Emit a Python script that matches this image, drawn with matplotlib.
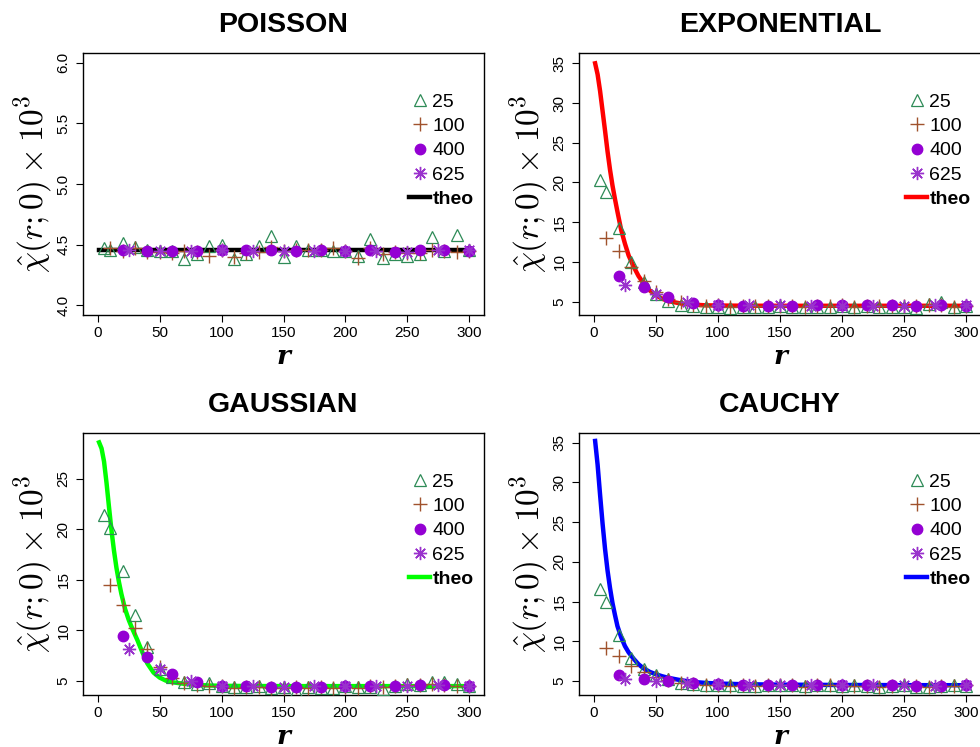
import matplotlib
matplotlib.use("Agg")
import matplotlib.pyplot as plt

plt.rcParams['font.family'] = ['Liberation Sans', 'DejaVu Sans']
plt.rcParams['mathtext.fontset'] = 'cm'

# grid distances for each sample size
r25 = [5, 10, 20, 30, 40, 50, 60, 70, 80, 90, 100, 110, 120, 130, 140, 150,
       160, 170, 180, 190, 200, 210, 220, 230, 240, 250, 260, 270, 280, 290, 300]
r100 = [10, 20, 30, 40, 50, 60, 70, 80, 90, 100, 110, 120, 130, 140, 150,
        160, 170, 180, 190, 200, 210, 220, 230, 240, 250, 260, 270, 280, 290, 300]
r400 = [20, 40, 60, 80, 100, 120, 140, 160, 180, 200, 220, 240, 260, 280, 300]
r625 = [25, 50, 75, 100, 125, 150, 175, 200, 225, 250, 275, 300]

# theoretical curves
r_theo = [1, 3, 5, 7, 9, 11, 13, 15, 17, 19, 22, 25, 28, 32, 36, 40, 45, 50,
          55, 60, 70, 80, 90, 100, 120, 150, 200, 250, 300]
r_theo_poisson = [1, 300]
poisson_theo = [4.46, 4.46]
expo_theo = [35.0, 33.6, 31.5, 29.0, 26.5, 23.9, 21.6, 19.6, 17.9, 16.3, 14.0,
             12.3, 10.8, 9.4, 8.2, 7.3, 6.4, 5.8, 5.35, 5.05, 4.75, 4.6, 4.52,
             4.49, 4.47, 4.46, 4.46, 4.46, 4.46]
gauss_theo = [28.6, 28.0, 26.7, 24.6, 22.2, 19.9, 17.9, 16.2, 14.8, 13.6, 12.1,
              11.0, 10.1, 9.0, 7.8, 6.7, 5.8, 5.3, 5.0, 4.85, 4.68, 4.58, 4.52,
              4.49, 4.47, 4.46, 4.46, 4.46, 4.46]
cauchy_theo = [35.2, 32.2, 28.4, 24.8, 21.6, 18.9, 16.7, 14.8, 13.3, 11.9, 10.5,
               9.4, 8.6, 7.8, 7.1, 6.6, 6.15, 5.85, 5.6, 5.4, 5.1, 4.88, 4.76,
               4.68, 4.6, 4.54, 4.5, 4.48, 4.47]

# POISSON estimates
p25 = [4.47, 4.46, 4.51, 4.48, 4.46, 4.45, 4.45, 4.38, 4.42, 4.49, 4.50, 4.38,
       4.42, 4.49, 4.57, 4.40, 4.49, 4.46, 4.46, 4.45, 4.45, 4.41, 4.55, 4.39,
       4.42, 4.41, 4.42, 4.56, 4.45, 4.58, 4.46]
p100 = [4.47, 4.45, 4.47, 4.44, 4.44, 4.43, 4.45, 4.44, 4.41, 4.46, 4.40, 4.43,
        4.44, 4.48, 4.45, 4.46, 4.46, 4.46, 4.47, 4.45, 4.39, 4.47, 4.42, 4.44,
        4.43, 4.43, 4.46, 4.45, 4.44, 4.45]
p400 = [4.46, 4.45, 4.45, 4.45, 4.46, 4.46, 4.46, 4.45, 4.46, 4.45, 4.46, 4.44,
        4.46, 4.46, 4.45]
p625 = [4.46, 4.45, 4.45, 4.46, 4.45, 4.45, 4.45, 4.45, 4.45, 4.44, 4.46, 4.46]

# EXPONENTIAL estimates
e25 = [20.3, 18.8, 14.2, 10.0, 7.5, 5.9, 5.1, 4.6, 4.4, 4.3, 4.35, 4.2, 4.3,
       4.35, 4.25, 4.4, 4.3, 4.3, 4.35, 4.35, 4.45, 4.3, 4.4, 4.3, 4.35, 4.35,
       4.2, 4.7, 4.9, 4.35, 4.4]
e100 = [13.0, 11.3, 9.3, 7.6, 6.2, 5.3, 4.9, 4.6, 4.45, 4.5, 4.35, 4.4, 4.4,
        4.4, 4.45, 4.45, 4.35, 4.45, 4.4, 4.5, 4.35, 4.45, 4.4, 4.45, 4.4, 4.4,
        4.6, 4.6, 4.3, 4.4]
e400 = [8.2, 6.8, 5.6, 4.85, 4.6, 4.45, 4.45, 4.45, 4.5, 4.5, 4.5, 4.5, 4.45,
        4.6, 4.45]
e625 = [7.1, 6.0, 5.0, 4.55, 4.5, 4.5, 4.45, 4.45, 4.45, 4.45, 4.5, 4.5]

# GAUSSIAN estimates
g25 = [21.4, 20.1, 15.9, 11.5, 8.3, 6.2, 5.4, 4.9, 4.65, 4.75, 4.5, 4.4, 4.4,
       4.45, 4.3, 4.35, 3.95, 4.4, 4.25, 4.3, 4.45, 4.35, 4.4, 4.2, 4.5, 4.7,
       4.6, 4.9, 4.9, 4.7, 4.5]
g100 = [14.5, 12.5, 10.2, 8.1, 6.4, 5.3, 4.8, 4.6, 4.5, 4.45, 4.3, 4.4, 4.35,
        4.3, 4.3, 4.35, 4.3, 4.35, 4.3, 4.4, 4.3, 4.45, 4.4, 4.5, 4.55, 4.6,
        4.7, 4.55, 4.5, 4.45]
g400 = [9.4, 7.35, 5.7, 4.85, 4.5, 4.45, 4.4, 4.4, 4.4, 4.45, 4.45, 4.5, 4.55,
        4.6, 4.5]
g625 = [8.1, 6.2, 4.95, 4.5, 4.45, 4.4, 4.45, 4.45, 4.5, 4.5, 4.55, 4.5]

# CAUCHY estimates
c25 = [16.6, 15.0, 10.8, 7.9, 6.5, 5.8, 5.2, 4.8, 4.6, 4.5, 4.45, 4.5, 4.4,
       4.4, 4.45, 4.5, 4.45, 4.4, 4.5, 4.55, 4.35, 4.55, 4.35, 4.25, 4.4, 4.45,
       4.3, 4.3, 4.35, 4.55, 4.4]
c100 = [9.2, 8.15, 6.9, 6.1, 5.5, 5.1, 4.8, 4.6, 4.5, 4.45, 4.4, 4.45, 4.35,
        4.45, 4.45, 4.45, 4.3, 4.45, 4.45, 4.4, 4.35, 4.4, 4.3, 4.4, 4.45, 4.35,
        4.25, 4.35, 4.4, 4.45]
c400 = [5.75, 5.25, 4.95, 4.75, 4.6, 4.5, 4.5, 4.5, 4.5, 4.45, 4.5, 4.45, 4.4,
        4.4, 4.5]
c625 = [5.2, 4.95, 4.7, 4.6, 4.5, 4.5, 4.5, 4.45, 4.5, 4.5, 4.4, 4.5]


def draw_panel(ax, title, rt, theo, theo_color, s25, s100, s400, s625,
               ylim, yticks):
    ax.plot(rt, theo, color=theo_color, lw=3.2, label='theo', zorder=2)
    ax.plot(r25, s25, ls='none', marker='^', ms=8.5, mfc='none',
            mec='#2E8B57', mew=0.9, label='25', zorder=3)
    ax.plot(r100, s100, ls='none', marker='+', ms=10, mec='#A0522D',
            mew=1.0, label='100', zorder=4)
    ax.plot(r400, s400, ls='none', marker='o', ms=7.5, mfc='#9400D3',
            mec='#9400D3', label='400', zorder=5)
    ax.plot(r625, s625, ls='none', marker=(8, 2, 0), ms=9.5, mec='#9932CC',
            mew=1.0, label='625', zorder=6)

    ax.set_xlim(-12, 312)
    ax.set_ylim(*ylim)
    ax.set_xticks([0, 50, 100, 150, 200, 250, 300])
    ax.set_yticks(yticks)
    ax.tick_params(direction='out', length=5, width=0.8, labelsize=11,
                   colors='black')
    ax.tick_params(axis='x', pad=3)
    ax.tick_params(axis='y', pad=4, labelrotation=90)
    for lab in ax.get_yticklabels():
        lab.set_va('center')
    for sp in ax.spines.values():
        sp.set_linewidth(1.0)

    ax.text(0.5, 1.107, title, transform=ax.transAxes, ha='center',
            va='center', fontsize=20.5, fontweight='bold')
    ax.set_ylabel(r'$\hat{\chi}\mathbf{(}r\mathbf{;0)}\times\mathbf{10^3}$',
                  fontsize=24, va='center')
    ax.yaxis.set_label_coords(-0.125, 0.5)
    ax.set_xlabel('r', fontsize=19, family='DejaVu Serif', style='italic',
                  fontweight='bold', va='center')
    ax.xaxis.set_label_coords(0.5, -0.158)

    handles, labels = ax.get_legend_handles_labels()
    order = [1, 2, 3, 4, 0]
    leg = ax.legend([handles[i] for i in order], [labels[i] for i in order],
                    loc='upper right', bbox_to_anchor=(0.993, 0.876),
                    borderaxespad=0, frameon=False, fontsize=14,
                    handlelength=1.1, handletextpad=0.1, labelspacing=0.34)
    leg.get_texts()[-1].set_fontweight('bold')


fig = plt.figure(figsize=(9.8, 7.47), dpi=100)
w, h = 401 / 980, 262 / 747
ax_p = fig.add_axes([83 / 980, 1 - 315 / 747, w, h])
ax_e = fig.add_axes([579 / 980, 1 - 315 / 747, 402 / 980, h])
ax_g = fig.add_axes([83 / 980, 1 - 695 / 747, w, h])
ax_c = fig.add_axes([579 / 980, 1 - 695 / 747, 402 / 980, h])

draw_panel(ax_p, 'POISSON', r_theo_poisson, poisson_theo, 'black',
           p25, p100, p400, p625, (3.92, 6.08), [4.0, 4.5, 5.0, 5.5, 6.0])
draw_panel(ax_e, 'EXPONENTIAL', r_theo, expo_theo, 'red',
           e25, e100, e400, e625, (3.3, 36.3), [5, 10, 15, 20, 25, 30, 35])
draw_panel(ax_g, 'GAUSSIAN', r_theo, gauss_theo, '#00FF00',
           g25, g100, g400, g625, (3.58, 29.53), [5, 10, 15, 20, 25])
draw_panel(ax_c, 'CAUCHY', r_theo, cauchy_theo, 'blue',
           c25, c100, c400, c625, (3.24, 36.2), [5, 10, 15, 20, 25, 30, 35])

fig.savefig('out.png', dpi=100)
